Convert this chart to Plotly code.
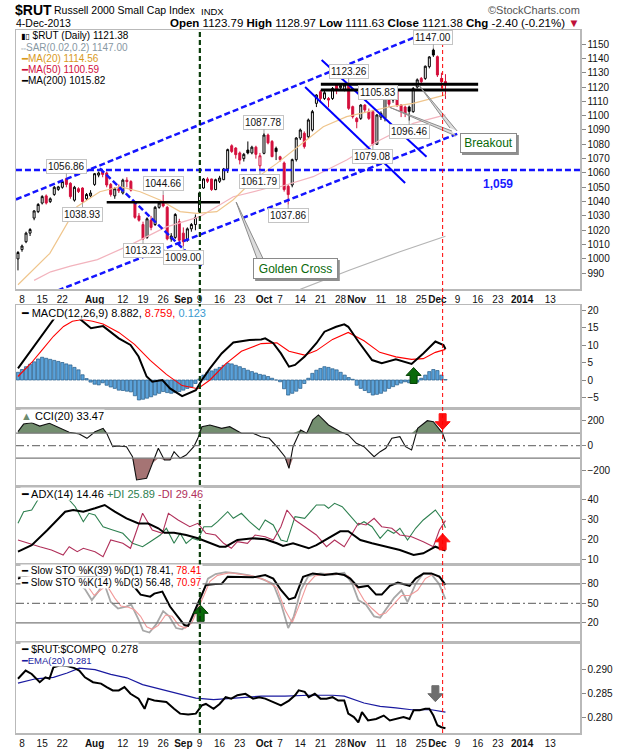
import plotly.graph_objects as go

# ---------------- DATA (x = trading-day index, 0 = 8-Jul-2013, 105 = 4-Dec-2013) ----------------
BAR_IDX = list(range(-1, 106))
OPEN = [1000.0, 1006.5, 1012.0, 1018.0, 1028.5, 1033.0, 1039.0, 1044.0, 1040.0, 1045.0, 1048.5, 1050.0, 1056.0,
        1052.8, 1041.0, 1049.0, 1049.5, 1042.0, 1044.0, 1052.0, 1058.5, 1061.0, 1060.0, 1052.0, 1044.0, 1049.0,
        1046.0, 1055.0, 1054.0, 1039.0, 1030.0, 1024.0, 1015.0, 1027.0, 1024.0, 1036.0, 1039.0, 1036.0, 1014.0,
        1015.0, 1026.0, 1018.0, 1013.0, 1021.0, 1024.0, 1033.0, 1049.5, 1055.8, 1055.8, 1048.4, 1054.2, 1055.3,
        1062.8, 1079.0, 1077.4, 1074.0, 1070.0, 1076.0, 1074.0, 1078.0, 1065.0, 1073.7, 1086.5, 1082.0, 1077.2,
        1071.3, 1067.0, 1050.7, 1051.6, 1069.3, 1084.4, 1087.7, 1085.3, 1090.0, 1108.6, 1116.7, 1112.0, 1112.0,
        1112.0, 1121.4, 1119.5, 1118.0, 1121.4, 1106.3, 1098.1, 1098.1, 1107.4, 1102.8, 1102.8, 1080.0, 1099.0,
        1098.1, 1110.9, 1110.9, 1117.9, 1107.4, 1106.0, 1106.0, 1102.8, 1120.0, 1126.0, 1126.0, 1134.2, 1145.8,
        1141.2, 1126.0, 1123.79]
HIGH = [1005.5, 1010.0, 1019.0, 1021.5, 1034.0, 1039.0, 1044.5, 1045.0, 1043.0, 1051.0, 1051.0, 1054.5, 1056.86,
        1053.5, 1051.0, 1050.0, 1050.0, 1046.0, 1048.0, 1060.0, 1061.0, 1062.0, 1061.0, 1053.0, 1050.0, 1052.0,
        1056.0, 1057.0, 1055.0, 1040.0, 1032.0, 1026.0, 1029.0, 1030.0, 1037.0, 1040.0, 1044.66, 1037.0, 1018.0,
        1032.0, 1028.0, 1022.0, 1022.0, 1025.0, 1031.0, 1047.0, 1056.5, 1057.0, 1056.0, 1056.0, 1058.0, 1063.5,
        1077.0, 1080.0, 1078.0, 1075.0, 1074.0, 1082.0, 1079.0, 1079.0, 1074.0, 1087.78, 1087.5, 1083.0, 1078.4,
        1072.0, 1068.0, 1052.0, 1070.0, 1085.0, 1091.0, 1089.0, 1098.0, 1104.0, 1115.0, 1118.0, 1118.0, 1113.0,
        1120.0, 1122.5, 1122.5, 1122.0, 1123.26, 1107.0, 1099.0, 1108.0, 1108.0, 1105.0, 1104.0, 1101.0, 1103.0,
        1113.0, 1112.0, 1118.0, 1120.0, 1108.0, 1107.0, 1107.0, 1120.0, 1126.0, 1127.0, 1135.0, 1141.5, 1147.0,
        1142.0, 1130.0, 1128.97]
LOW = [992.0, 1005.0, 1011.0, 1016.0, 1027.0, 1032.0, 1038.0, 1038.0, 1039.0, 1044.0, 1047.5, 1049.0, 1050.0,
       1042.0, 1040.0, 1046.0, 1038.93, 1041.0, 1043.0, 1051.0, 1057.0, 1057.0, 1050.0, 1043.5, 1042.0, 1046.0,
       1045.0, 1050.0, 1047.0, 1028.0, 1026.0, 1013.23, 1014.0, 1020.0, 1023.0, 1035.0, 1036.0, 1013.0, 1012.0,
       1014.0, 1011.0, 1009.0, 1012.0, 1019.0, 1020.0, 1032.0, 1049.0, 1053.0, 1047.5, 1048.0, 1053.0, 1055.0,
       1060.0, 1074.0, 1070.0, 1066.0, 1068.0, 1073.0, 1073.0, 1070.0, 1061.79, 1073.0, 1080.0, 1071.0, 1069.0,
       1068.0, 1047.0, 1037.86, 1050.0, 1068.0, 1083.0, 1077.0, 1084.0, 1089.0, 1106.0, 1109.0, 1111.0, 1105.83,
       1111.0, 1115.0, 1118.0, 1117.0, 1104.0, 1098.0, 1091.2, 1097.0, 1102.0, 1097.0, 1079.08, 1079.5, 1097.0,
       1096.0, 1106.0, 1109.0, 1106.0, 1099.0, 1099.0, 1096.46, 1102.0, 1119.0, 1122.0, 1125.0, 1133.0, 1141.0,
       1127.0, 1119.0, 1111.63]
CLOSE = [1004.5, 1009.0, 1018.0, 1020.5, 1033.5, 1038.0, 1043.5, 1039.0, 1042.0, 1050.0, 1050.3, 1054.0, 1052.0,
         1043.5, 1050.0, 1047.0, 1040.0, 1045.0, 1046.0, 1059.5, 1060.0, 1059.0, 1051.6, 1045.0, 1049.0, 1047.5,
         1055.0, 1054.0, 1048.0, 1029.0, 1027.0, 1014.0, 1028.0, 1022.0, 1036.0, 1039.0, 1037.0, 1014.0, 1016.0,
         1031.0, 1013.0, 1012.0, 1021.0, 1024.0, 1029.0, 1046.0, 1055.8, 1054.2, 1048.4, 1055.3, 1056.5, 1062.8,
         1076.3, 1075.0, 1072.8, 1069.0, 1073.0, 1074.0, 1078.0, 1073.0, 1072.0, 1086.5, 1081.0, 1071.4, 1074.9,
         1069.4, 1048.4, 1044.9, 1069.3, 1084.4, 1090.0, 1078.4, 1097.0, 1102.8, 1114.4, 1112.0, 1116.0, 1110.9,
         1119.0, 1118.0, 1121.0, 1121.4, 1105.1, 1099.3, 1095.8, 1107.4, 1104.0, 1098.1, 1080.0, 1100.5, 1101.6,
         1112.1, 1108.0, 1116.7, 1107.4, 1102.8, 1101.5, 1103.0, 1119.0, 1125.0, 1123.7, 1134.5, 1141.0, 1142.3,
         1128.4, 1123.78, 1121.38]

MA20_X = [-1, 6.9, 13.6, 19.3, 24.3, 29.3, 34.2, 39.2, 43.3, 48.3, 52.3, 57.4, 63.2, 67.3, 74.7, 80.5, 91.2, 97.0, 102.0, 105.0]
MA20_Y = [982.0, 1003.9, 1036.4, 1046.9, 1050.4, 1046.9, 1041.1, 1033.0, 1031.8, 1033.0, 1041.1, 1055.1, 1066.7,
          1076.0, 1092.3, 1099.3, 1106.2, 1108.6, 1112.1, 1114.56]
MA50_X = [3, 7.1, 12, 18.7, 27.0, 35.5, 44.1, 52.4, 60.7, 64.0, 72.2, 80.5, 88.8, 97.0, 105.0]
MA50_Y = [985.0, 991.0, 995.0, 999.5, 1010.0, 1022.0, 1029.5, 1043.4, 1049.3, 1050.4, 1057.4, 1069.0, 1083.0, 1094.6, 1100.59]
MA200_X = [66, 69.0, 81.3, 93.7, 105.0]
MA200_Y = [976.5, 978.8, 992.3, 1005.0, 1015.82]

MACD_X = [-1, 8.3, 11, 14.2, 17.1, 20.1, 24.0, 26.9, 28.9, 30.9, 32.3, 34.8, 36.7, 39.7, 43.1, 44.6, 46.6, 49.5,
          52.4, 56.4, 59.3, 60.3, 62.3, 64.2, 66.2, 67.7, 70.1, 73.0, 75.0, 77.9, 79.9, 80.9, 83.4, 86.8, 89.2,
          92.7, 96.6, 99.5, 102.5, 104.5, 105]
MACD_Y = [3.3, 18.1, 20.3, 17.6, 14.8, 15.4, 11.9, 10.0, 6.7, 1.0, -0.5, 0.0, -2.4, -4.6, -2.9, 0.0, 3.3, 7.6,
          10.7, 11.4, 11.6, 11.9, 10.5, 7.6, 3.8, 4.3, 6.7, 10.5, 13.8, 15.2, 15.9, 15.2, 11.0, 5.7, 4.8, 5.9,
          4.6, 7.6, 11.0, 10.0, 8.882]
SIG_X = [-1, 2.4, 4.8, 7.8, 10.3, 12.5, 15, 17.5, 20.1, 24, 27.9, 31.8, 35.8, 39.7, 43.6, 46.6, 50.5, 54.4, 59.3,
         63.2, 66.2, 70.1, 73, 77, 80.9, 84.8, 88.7, 92.7, 96.6, 99.5, 102.5, 105]
SIG_Y = [1.0, 5.0, 8.3, 12.5, 15.3, 16.8, 17.3, 16.8, 16.0, 13.6, 10.2, 5.6, 1.6, -1.6, -2.5, 0.0, 4.6, 8.2, 10.4,
         10.6, 8.2, 7.1, 8.4, 11.6, 13.6, 11.2, 7.9, 6.6, 5.9, 6.1, 7.9, 8.759]
HIST = [2.2, 3.0, 3.8, 4.5, 5.2, 6.0, 6.5, 6.2, 5.9, 5.6, 5.3, 5.0, 4.6, 4.3, 3.6, 2.9, 1.5, 0.4, -0.6, -1.2, -1.4,
        -0.8, -1.5, -2.0, -2.4, -2.9, -3.0, -3.2, -3.4, -4.5, -5.7, -5.5, -5.2, -4.8, -4.3, -3.8, -3.3, -3.6, -3.8,
        -3.6, -3.3, -2.9, -2.4, -2.0, -1.0, 0.3, 1.4, 2.2, 2.6, 3.1, 3.6, 4.2, 4.8, 4.6, 4.2, 3.8, 3.3, 2.8, 2.4,
        2.0, 1.6, 1.4, 1.0, 0.5, 0.0, -0.5, -2.5, -4.3, -3.8, -3.2, -2.4, -1.0, 0.5, 1.9, 2.8, 3.3, 3.8, 3.6, 3.2,
        2.9, 2.2, 1.4, 0.7, 0.2, -1.5, -2.4, -3.0, -3.6, -4.3, -4.1, -3.8, -3.2, -2.4, -1.9, -1.4, -0.9, -0.5,
        -0.8, -1.0, -0.6, 0.5, 1.4, 2.4, 3.0, 2.7, 1.4, 0.12]

CCI_X = [-1.0, 0.4, 2.4, 4.4, 6.8, 9.3, 11.7, 14.2, 16.1, 18.1, 20.1, 21.0, 22.5, 24.0, 25.9, 27.4, 28.4, 30.9, 32.3,
         33.8, 35.3, 36.7, 37.7, 39.2, 40.7, 42.6, 43.6, 44.6, 46.6, 49.5, 51.5, 54.4, 57.3, 59.3, 61.3, 63.2, 65.2,
         66.2, 67.2, 69.1, 70.6, 72.1, 73.5, 76.0, 78.9, 80.9, 82.9, 84.8, 87.3, 88.8, 90.2, 91.7, 93.7, 95.1, 96.6,
         98.1, 100.5, 102.0, 104.3, 105.0]
CCI_Y = [112, 173, 184, 157, 179, 139, 107, 93, 59, 112, 139, 99, -8, -2, -8, -88, -274, -261, -141, -21, -114,
         -114, -48, -101, -75, -8, 59, 152, 166, 139, 152, 99, 99, 72, 59, -8, -88, -181, -8, 126, 99, 206, 246,
         166, 112, 86, 19, -8, -88, -48, -21, 59, 72, -8, -34, 139, 200, 192, 99, 33.47]

ADX_X = [-1, 2.4, 6.3, 10.7, 12.7, 15.2, 18.1, 20.5, 23, 25.9, 28.9, 31.3, 33.8, 35.3, 37.7, 40.7, 43.6, 46.6, 49,
         50.5, 53.4, 57.3, 60.3, 63.2, 64.7, 67.2, 71.1, 73, 76, 78.9, 80.9, 83.9, 86.8, 90.2, 93.7, 97.1, 99.5,
         102.5, 105]
ADX_Y = [13.9, 17.2, 24.75, 33.9, 34.75, 33.9, 35.6, 37.25, 33.9, 30.6, 28.0, 28.0, 25.6, 23.4, 23.4, 22.25, 20.6,
         18.1, 16.4, 16.4, 19.75, 20.6, 20.1, 18.1, 16.75, 18.1, 15.6, 17.2, 20.6, 24.1, 24.1, 19.75, 18.1, 16.4,
         14.75, 12.25, 13.1, 16.4, 14.46]
PDI_X = [-1, 0.4, 2.4, 3.9, 5.3, 8.5, 11.7, 13.2, 15.2, 16.6, 18.1, 20.1, 22.5, 25, 27.4, 29.9, 31.8, 34.3, 35.8,
         37.7, 39.2, 40.7, 42.2, 43.6, 45.1, 47, 48.5, 51, 52.4, 54.4, 56.4, 58.8, 60.3, 62.3, 64.2, 65.7, 67.7,
         70.1, 73, 75, 76, 77.5, 79.4, 83.4, 84.8, 86.8, 88.8, 90.7, 92.2, 93.7, 95.6, 97.6, 99.5, 102.5, 104, 105]
PDI_Y = [28.1, 33.9, 34.75, 39.75, 43.0, 44.0, 39.75, 36.4, 28.9, 33.1, 32.25, 26.4, 24.75, 23.1, 18.1, 16.4, 18.9,
         22.25, 25.6, 18.1, 23.1, 18.1, 20.6, 19.75, 26.4, 26.4, 28.9, 33.9, 30.6, 33.1, 28.9, 24.75, 29.75, 27.25,
         19.75, 18.9, 31.4, 30.6, 37.25, 37.25, 35.6, 38.1, 36.4, 27.25, 28.9, 26.4, 20.6, 24.75, 23.1, 25.6, 19.75,
         25.6, 29.75, 34.75, 30.6, 25.89]
MDI_X = [-1, 1.4, 4.4, 7.3, 10.2, 11.7, 13.7, 15.2, 18.1, 20.1, 22, 25, 26.9, 28.9, 29.9, 32.3, 34.8, 36.3, 38.7,
         41.6, 43.6, 45.6, 48, 50, 51.9, 53.4, 55.9, 57.8, 60.3, 62.3, 64.2, 65.7, 67.7, 70.1, 73, 75.5, 77.5, 79.9,
         81.9, 83.4, 85.3, 87.3, 89.2, 91.7, 93.7, 96.6, 99.5, 102, 103.5, 105]
MDI_Y = [19.75, 18.1, 16.4, 14.75, 12.25, 16.4, 13.9, 15.6, 13.9, 11.4, 19.75, 18.1, 15.6, 27.25, 33.1, 24.75, 23.1,
         33.1, 29.75, 26.4, 28.1, 23.1, 22.25, 18.1, 15.6, 18.9, 18.1, 22.25, 21.4, 19.75, 26.4, 34.75, 29.75, 26.4,
         22.25, 16.4, 19.75, 16.4, 23.1, 28.1, 27.25, 30.6, 26.4, 25.6, 22.25, 21.4, 18.9, 16.4, 24.75, 29.46]

STO39_X = [-1, 3, 8, 12, 15, 19, 22, 25, 27, 28.3, 29.4, 31.8, 32.8, 34.8, 36.7, 38.7, 40.2, 41.2, 42.6, 44.1, 45.6,
           48, 49.5, 51, 53.4, 57.3, 60.3, 62.3, 64.2, 66.2, 67.7, 69.7, 72.1, 75, 77.9, 79.9, 81.4, 83.4, 85.8,
           87.8, 89.2, 91.2, 93.2, 96.1, 97.6, 99.6, 101.5, 103.5, 105]
STO39_Y = [88, 96, 97, 95, 90, 93, 88, 84, 80, 72, 63.4, 60.3, 65, 68, 45, 29.5, 16.7, 15.3, 34.6, 55, 78, 79.7, 80,
           91, 91, 90, 93.5, 88, 70.6, 56, 59, 91, 96, 93.5, 96, 93.5, 88, 74.6, 77, 63.4, 63.4, 77, 82, 77, 88, 96,
           96, 91, 78.41]
STO14K_X = [-1, 3, 8, 12, 15.6, 17.3, 18.9, 20.3, 22, 23.8, 25.8, 27.1, 28.9, 30, 31.6, 33.3, 35, 36.5, 38.2, 39.7,
            41.4, 43.1, 44.6, 46.1, 48, 50.5, 53.4, 56.4, 59.3, 62.3, 64.2, 66, 67.4, 69.1, 71, 74, 77, 79.9, 81.9,
            83.4, 85.3, 87.3, 88.8, 90.2, 92.2, 94.1, 95.6, 97.6, 99.5, 101.5, 103.4, 105]
STO14K_Y = [90, 95, 93, 92, 72, 55, 68, 82, 52, 42, 45, 48, 25, 8, 5, 18, 38, 30, 12, 10, 18, 38, 62, 88, 95, 98, 96,
            93, 88, 80, 50, 12, 30, 70, 92, 96, 94, 97, 80, 55, 48, 30, 28, 40, 58, 70, 52, 80, 96, 95, 80, 56.48]
STO14D_X = [-1, 3, 8, 12, 14, 16.1, 17.9, 19.6, 21, 23, 24.5, 26.4, 27.9, 29.4, 30.9, 32.3, 33.8, 35.6, 37.2, 38.9,
            40.5, 42.1, 43.6, 45.1, 46.6, 48.5, 51.5, 54.4, 57.3, 60.3, 63.2, 65.2, 67, 68.6, 70.6, 72.6, 75.5, 78.4,
            80.9, 82.9, 84.8, 86.8, 88.6, 90.2, 92.2, 94.1, 96.1, 98.1, 100, 102, 103.9, 105]
STO14D_Y = [88, 93, 93, 92, 88, 78, 62, 70, 78, 58, 46, 44, 40, 30, 14, 10, 16, 32, 30, 16, 12, 20, 40, 62, 84, 93,
            97, 95, 92, 86, 74, 40, 20, 45, 78, 92, 95, 95, 92, 75, 55, 42, 32, 35, 48, 62, 62, 70, 88, 95, 88, 70.97]

RATIO_X = [-1, 0.9, 2.4, 4.4, 5.8, 6.8, 7.8, 9.5, 11.5, 13, 14.2, 15.6, 17.6, 19.6, 21, 22.5, 24, 25.4, 26.9, 28.9,
           30.4, 31.3, 32.8, 35.8, 37.7, 39.2, 41.2, 43.1, 44.6, 45.6, 47.5, 49, 50.5, 51.9, 53.4, 55.4, 57.3, 58.8,
           60.3, 62.3, 64.2, 66.2, 67.7, 68.6, 70.1, 71.1, 72.6, 74, 75.5, 77, 78.4, 79.9, 80.9, 82.3, 83.4, 84.3,
           85.8, 87.8, 89.7, 91.2, 92.7, 94.6, 96.1, 97.1, 98.6, 100, 101, 102, 103, 104, 105]
RATIO_Y = [0.2880, 0.2897, 0.2890, 0.2873, 0.2883, 0.2880, 0.2904, 0.2908, 0.2906, 0.2902, 0.2897, 0.2883, 0.2873,
           0.2870, 0.2863, 0.2856, 0.2856, 0.2863, 0.2849, 0.2839, 0.2818, 0.2839, 0.2835, 0.2832, 0.2818, 0.2808,
           0.2806, 0.2808, 0.2825, 0.2828, 0.2818, 0.2828, 0.2842, 0.2839, 0.2846, 0.2849, 0.2839, 0.2842, 0.2839,
           0.2832, 0.2825, 0.2835, 0.2846, 0.2856, 0.2853, 0.2842, 0.2849, 0.2839, 0.2839, 0.2842, 0.2835, 0.2835,
           0.2808, 0.2801, 0.2790, 0.2811, 0.2794, 0.2797, 0.2804, 0.2794, 0.2797, 0.2801, 0.2797, 0.2815, 0.2815,
           0.2818, 0.2818, 0.2804, 0.2784, 0.2780, 0.2778]
EMA_X = [-1, 3.4, 7.8, 11.2, 14.2, 18.1, 22, 26, 29.9, 34.8, 39.7, 43.1, 47.5, 53.4, 59.3, 65.2, 71.1, 77, 79.9,
         84.8, 88.8, 92.7, 96.6, 101.5, 105]
EMA_Y = [0.2871, 0.2880, 0.2883, 0.2892, 0.2902, 0.2899, 0.2889, 0.2882, 0.2868, 0.2858, 0.2847, 0.2840, 0.2837,
         0.2840, 0.2844, 0.2844, 0.2846, 0.2846, 0.2844, 0.2830, 0.2823, 0.2820, 0.2816, 0.2816, 0.2811]

TICK_IDX = [0, 5, 10, 18, 25, 30, 35, 40, 44, 49, 54, 60, 64, 69, 74, 79, 83, 89, 94, 99, 103, 108, 113, 118, 124, 131]
TICK_TXT = ["8", "15", "22", "<b>Aug</b>", "12", "19", "26", "<b>Sep</b>", "9", "16", "23", "<b>Oct</b>", "7", "14",
            "21", "28", "<b>Nov</b>", "11", "18", "25", "<b>Dec</b>", "9", "16", "23", "<b>2014</b>", "13"]

# extreme labels: (bar index, value, text, above?)
PEAK_LABELS = [(11, 1056.86, "1056.86", True), (15, 1038.93, "1038.93", False), (30, 1013.23, "1013.23", False),
               (35, 1044.66, "1044.66", True), (40, 1009.00, "1009.00", False), (60, 1087.78, "1087.78", True),
               (59, 1061.79, "1061.79", False), (66, 1037.86, "1037.86", False), (81, 1123.26, "1123.26", True),
               (87, 1079.08, "1079.08", False), (96, 1096.46, "1096.46", False), (102, 1147.00, "1147.00", True)]

# annotation lines (index, price)
CHANNEL_UP = ([-1.5, 104.9], [1041.5, 1163.3])
CHANNEL_LO = ([-1.5, 108.6], [966.5, 1088.1])
SUPPORT_1059 = ([-1.5, 138.4], [1062.0, 1062.0])
AUG_DOWN = ([19.3, 45.0], [1063.2, 993.4])
AUG_FLAT = ([21.0, 49.1], [1039.5, 1039.5])
NOV_CH_A = ([74.3, 100.3], [1138.8, 1071.3])
NOV_CH_B = ([70.2, 95.0], [1120.0, 1053.0])
RES_HI = ([74.1, 113.1], [1121.9, 1121.9])
RES_LO = ([74.1, 113.1], [1117.9, 1117.9])
GOLDEN_IDX = 44.1
LAST_IDX = 104.3

# ---------------- LAYOUT GEOMETRY ----------------
W, H = 620, 750
ML, MR, MT, MB = 16, 40, 30, 17
PANELS = [(30, 289), (305, 408), (408, 486), (486, 564), (564, 642), (642, 733)]
YR = [[979.0, 1159.8], [-8.0, 21.43], [-322.4, 301.6], [7.75, 46.75], [-9.5, 110.5], [0.27680, 0.29560]]
XR = [-1.49, 138.36]
PH = H - MT - MB
PW = W - ML - MR


def dom(top, bot):
    return [(H - MB - bot) / PH, (H - MB - top) / PH]


def py(ypx):
    return (H - MB - ypx) / PH


PX_PER_BAR = PW / (XR[1] - XR[0])
UPP = [(YR[k][1] - YR[k][0]) / (PANELS[k][1] - PANELS[k][0]) for k in range(6)]

FONT = "Liberation Sans, Arial, DejaVu Sans, sans-serif"
RED = "#d40f3c"
BLUE = "#1414ff"

fig = go.Figure()

AX = ["x", "x2", "x3", "x4", "x5", "x6"]
AY = ["y", "y2", "y3", "y4", "y5", "y6"]


def line(x, y, k, color, width=1.0, dash=None, **kw):
    return go.Scatter(x=x, y=y, mode="lines", xaxis=AX[k], yaxis=AY[k],
                      line=dict(color=color, width=width, dash=dash), hoverinfo="skip", **kw)


def block_arrow(xc, yc, up, color, k, edge=None):
    pts = [(-3.5, -8), (3.5, -8), (3.5, 0), (7.5, 0), (0, 8), (-7.5, 0), (-3.5, 0), (-3.5, -8)]
    s = 1 if up else -1
    xs = [xc + px / PX_PER_BAR for px, _ in pts]
    ys = [yc + s * p * UPP[k] for _, p in pts]
    return go.Scatter(x=xs, y=ys, mode="lines", fill="toself", fillcolor=color, xaxis=AX[k], yaxis=AY[k],
                      line=dict(color=edge or color, width=1), hoverinfo="skip")


def wedge(base1, base2, tip):
    return go.Scatter(x=[base1[0], tip[0], base2[0]], y=[base1[1], tip[1], base2[1]], mode="lines",
                      fill="toself", fillcolor="#dcdcdc", line=dict(color="#8c8c8c", width=1),
                      xaxis="x", yaxis="y", hoverinfo="skip")


# ---- price panel ----
fig.add_trace(line(MA200_X, MA200_Y, 0, "#b4b4b4", 1.2))
fig.add_trace(line(MA50_X, MA50_Y, 0, "#f2b3bd", 1.2))
fig.add_trace(line(MA20_X, MA20_Y, 0, "#efc58c", 1.2))
for seg in (CHANNEL_UP, CHANNEL_LO, SUPPORT_1059, AUG_DOWN):
    fig.add_trace(line(seg[0], seg[1], 0, BLUE, 2.5, "6px,3px"))
for seg in (NOV_CH_A, NOV_CH_B):
    fig.add_trace(line(seg[0], seg[1], 0, "#0000ff", 2))
fig.add_trace(line(AUG_FLAT[0], AUG_FLAT[1], 0, "black", 2.5))

# candles grouped by StockCharts colouring
groups = {}
for k, idx in enumerate(BAR_IDX):
    o, c = OPEN[k], CLOSE[k]
    prev = CLOSE[k - 1] if k > 0 else o
    hollow = c >= o
    red = c < prev
    groups.setdefault((hollow, red), []).append(k)
for (hollow, red), ks in groups.items():
    col = RED if red else "black"
    fill = "white" if hollow else col
    st = dict(line=dict(color=col, width=1), fillcolor=fill)
    fig.add_trace(go.Candlestick(x=[BAR_IDX[k] for k in ks], open=[OPEN[k] for k in ks],
                                 high=[HIGH[k] for k in ks], low=[LOW[k] for k in ks],
                                 close=[CLOSE[k] for k in ks], increasing=st, decreasing=st,
                                 whiskerwidth=0, xaxis="x", yaxis="y", hoverinfo="skip"))

fig.add_trace(line(RES_HI[0], RES_HI[1], 0, "black", 3))
fig.add_trace(line(RES_LO[0], RES_LO[1], 0, "black", 3))

# callout pointers
fig.add_trace(wedge((106.1, 1091.4), (107.9, 1089.3), (98.5, 1121.0)))
fig.add_trace(wedge((106.6, 1089.3), (107.6, 1085.8), (91.2, 1105.8)))
fig.add_trace(wedge((58.3, 1000.0), (59.8, 1000.0), (53.1, 1039.7)))

# ---- MACD ----
fig.add_trace(go.Bar(x=BAR_IDX, y=HIST, xaxis="x2", yaxis="y2", width=0.8,
                     marker=dict(color="#5aa2da", line=dict(color="#245a86", width=0.7)), hoverinfo="skip"))
fig.add_trace(line(SIG_X, SIG_Y, 1, "#ff0000", 1.1))
fig.add_trace(line(MACD_X, MACD_Y, 1, "black", 2))
fig.add_trace(block_arrow(97.1, 1.3, True, "#0a6a0a", 1, "#054005"))

# ---- CCI ----
cci_hi = [max(v, 100) for v in CCI_Y]
cci_lo = [min(v, -100) for v in CCI_Y]
fig.add_trace(line(CCI_X, [100] * len(CCI_X), 2, "rgba(0,0,0,0)", 0))
fig.add_trace(go.Scatter(x=CCI_X, y=cci_hi, mode="lines", fill="tonexty", fillcolor="#738e6f",
                         line=dict(width=0, color="rgba(0,0,0,0)"), xaxis="x3", yaxis="y3", hoverinfo="skip"))
fig.add_trace(line(CCI_X, [-100] * len(CCI_X), 2, "rgba(0,0,0,0)", 0))
fig.add_trace(go.Scatter(x=CCI_X, y=cci_lo, mode="lines", fill="tonexty", fillcolor="#a57474",
                         line=dict(width=0, color="rgba(0,0,0,0)"), xaxis="x3", yaxis="y3", hoverinfo="skip"))
fig.add_trace(line(CCI_X, CCI_Y, 2, "#111111", 1.1))
fig.add_trace(block_arrow(104.3, 192, False, "#ff1010", 2))

# ---- ADX ----
fig.add_trace(line(PDI_X, PDI_Y, 3, "#2e8050", 1.1))
fig.add_trace(line(MDI_X, MDI_Y, 3, "#b0305a", 1.1))
fig.add_trace(line(ADX_X, ADX_Y, 3, "black", 2))
fig.add_trace(block_arrow(104.3, 18.85, True, "#ff1010", 3))

# ---- STO ----
fig.add_trace(line(STO14K_X, STO14K_Y, 4, "#a8a8a8", 1.8))
fig.add_trace(line(STO14D_X, STO14D_Y, 4, "#f29a9a", 1.1))
fig.add_trace(line(STO39_X, STO39_Y, 4, "black", 2))
fig.add_trace(block_arrow(44.3, 34.6, True, "#0a6a0a", 4, "#054005"))

# ---- ratio ----
fig.add_trace(line(EMA_X, EMA_Y, 5, "#1a1aa0", 1.2))
fig.add_trace(line(RATIO_X, RATIO_Y, 5, "black", 2))
fig.add_trace(block_arrow(102.5, 0.28492, False, "#6e6e6e", 5))

# ---------------- axes ----------------
frame = dict(showline=True, mirror=True, linecolor="#b9b9b9", linewidth=1.5, showgrid=False, zeroline=False)
layout = dict(width=W, height=H, margin=dict(l=ML, r=MR, t=MT, b=MB), paper_bgcolor="white",
              plot_bgcolor="white", showlegend=False, font=dict(family=FONT, size=10, color="#111"))
YTICKS = [list(range(990, 1151, 10)), [-5, 0, 5, 10, 15, 20], [-200, 0, 200], [10, 20, 30, 40], [20, 50, 80],
          [0.280, 0.285, 0.290]]
for k in range(6):
    xs = "xaxis" if k == 0 else "xaxis%d" % (k + 1)
    ys = "yaxis" if k == 0 else "yaxis%d" % (k + 1)
    xa = dict(frame, domain=[0, 1], range=XR, anchor=AY[k], tickvals=TICK_IDX, ticktext=TICK_TXT,
              showticklabels=(k in (0, 5)), ticks="", tickangle=0, automargin=False,
              tickfont=dict(size=10, family=FONT, color="#111"))
    if k > 0:
        xa["matches"] = "x"
    if k == 0:
        xa["rangeslider"] = dict(visible=False)
    layout[xs] = xa
    ya = dict(frame, domain=dom(*PANELS[k]), range=YR[k], anchor=AX[k], side="right", tickvals=YTICKS[k],
              ticks="outside", ticklen=4, tickcolor="#888", automargin=False,
              tickfont=dict(size=10, family=FONT, color="#111"))
    if k == 5:
        ya["tickformat"] = ".3f"
    layout[ys] = ya
fig.update_layout(**layout)

# ---------------- shapes ----------------
shapes = []
for yv, d in ((100, "solid"), (-100, "solid"), (0, "8px,3px,2px,3px")):
    shapes.append(dict(type="line", xref="paper", x0=0, x1=1, yref="y3", y0=yv, y1=yv,
                       line=dict(color="#7a7a7a", width=1.2, dash=d)))
for yv, d in ((80, "solid"), (20, "solid"), (50, "8px,3px,2px,3px")):
    shapes.append(dict(type="line", xref="paper", x0=0, x1=1, yref="y5", y0=yv, y1=yv,
                       line=dict(color="#7a7a7a", width=1.2, dash=d)))
# callout shadows
shapes.append(dict(type="rect", xref="x", yref="y", x0=109.1, x1=123.2, y0=1072.5, y1=1086.5,
                   fillcolor="#8f8f8f", line=dict(width=0), layer="above"))
shapes.append(dict(type="rect", xref="x", yref="y", x0=57.8, x1=78.8, y0=984.6, y1=999.2,
                   fillcolor="#8f8f8f", line=dict(width=0), layer="above"))
shapes.append(dict(type="line", xref="x", yref="paper", x0=GOLDEN_IDX, x1=GOLDEN_IDX, y0=0, y1=1,
                   line=dict(color="#0b3d0b", width=2.2, dash="5px,3px"), layer="above"))
shapes.append(dict(type="line", xref="x", yref="paper", x0=LAST_IDX, x1=LAST_IDX, y0=0, y1=1,
                   line=dict(color="#ff0000", width=1, dash="4px,3px"), layer="above"))
fig.update_layout(shapes=shapes)

# ---------------- annotations ----------------
ann = []


def txt(xpx, ypx, text, size=11, color="#111", anchor="left", bg=None, family=FONT):
    ann.append(dict(xref="paper", yref="paper", x=(xpx - ML) / PW, y=py(ypx), text=text, showarrow=False,
                    xanchor=anchor, yanchor="middle", font=dict(size=size, color=color, family=family),
                    bgcolor=bg, borderpad=0))


txt(14, 9.5, "<b>$RUT</b>", 14, "#000")
txt(53, 10.5, "Russell 2000 Small Cap Index", 10.5, "#000")
txt(200, 11, "INDX", 9.5, "#000")
txt(581, 10.5, "©StockCharts.com", 11, "#555", anchor="right")
txt(15, 23.5, "4-Dec-2013", 10.5, "#000")
txt(581, 23.5, "<b>Open</b> 1123.79 <b>High</b> 1128.97 <b>Low</b> 1111.63 <b>Close</b> 1121.38 "
               "<b>Chg</b> -2.40 (-0.21%) <span style='color:#c0103a'>▼</span>", 11.5, "#000", anchor="right")

# price legend
LEG = 10
txt(20, 35.5, "<span style='font-size:8px'>▮▯</span> $RUT (Daily) 1121.38", LEG, "#000")
txt(20, 47, "<span style='font-size:7px'>▫▫</span>SAR(0.02,0.2) 1147.00", LEG, "#8898a4")
txt(20, 58.5, "<b>━</b>MA(20) 1114.56", LEG, "#d99a1c")
txt(20, 69.7, "<b>━</b>MA(50) 1100.59", LEG, "#d10f3c")
txt(20, 80.8, "<b>━</b>MA(200) 1015.82", LEG, "#000")
# panel legends
txt(20, 312.5, "<b>━</b> MACD(12,26,9) 8.882, <span style='color:#ff0000'>8.759,</span> "
               "<span style='color:#3a9ad0'>0.123</span>", 11, "#000", bg="white")
txt(20, 416, "<span style='color:#6e8b6e'>▲</span> CCI(20) 33.47", 11, "#000", bg="white")
txt(20, 494, "<b>━</b> ADX(14) 14.46 <span style='color:#2e8050'>+DI 25.89</span> "
             "<span style='color:#b0305a'>-DI 29.46</span>", 11, "#000", bg="white")
txt(20, 570.8, "<b>━</b> Slow STO %K(39) %D(1) 78.41, <span style='color:#ff0000'>78.41</span>", 10, "#000",
    bg="white")
txt(20, 582.2, "<b>━</b> Slow STO %K(14) %D(3) 56.48, <span style='color:#ff0000'>70.97</span>", 10, "#000",
    bg="white")
txt(20, 648.7, "<b>━</b> $RUT:$COMPQ  0.278", 10.5, "#000", bg="white")
txt(20, 660.3, "<b>━</b>EMA(20) 0.281", 9.5, "#1a1aa0", bg="white")

for idx, val, label, above in PEAK_LABELS:
    ann.append(dict(xref="x", yref="y", x=idx, y=val, text=label, showarrow=True, arrowhead=0, arrowwidth=1,
                    arrowcolor="#a0a0a0", ax=0, ay=-11 if above else 11, bgcolor="white",
                    bordercolor="#c4c4c4", borderwidth=1, borderpad=1, font=dict(size=10, color="#111")))
ann.append(dict(xref="x", yref="y", x=88.3, y=1116.5, text="1105.83", showarrow=False, bgcolor="white",
                bordercolor="#c4c4c4", borderwidth=1, borderpad=1, font=dict(size=10, color="#111")))
ann.append(dict(xref="x", yref="y", x=118, y=1052.3, text="<b>1,059</b>", showarrow=False,
                font=dict(size=12, color="#1a1aff")))
ann.append(dict(xref="x", yref="y", x=115.67, y=1080.9, text="Breakout", showarrow=False, bgcolor="white",
                bordercolor="#8a8a8a", borderwidth=1, borderpad=2, width=51, height=14,
                font=dict(size=12, color="#0a6a0a")))
ann.append(dict(xref="x", yref="y", x=67.82, y=993.3, text="Golden Cross", showarrow=False, bgcolor="white",
                bordercolor="#8a8a8a", borderwidth=1, borderpad=2, width=79, height=15,
                font=dict(size=12, color="#0a6a0a")))
fig.update_layout(annotations=ann)

fig.write_html("out.html", config={"displayModeBar": False, "staticPlot": True},
               post_script="document.body.style.margin='0px';")
